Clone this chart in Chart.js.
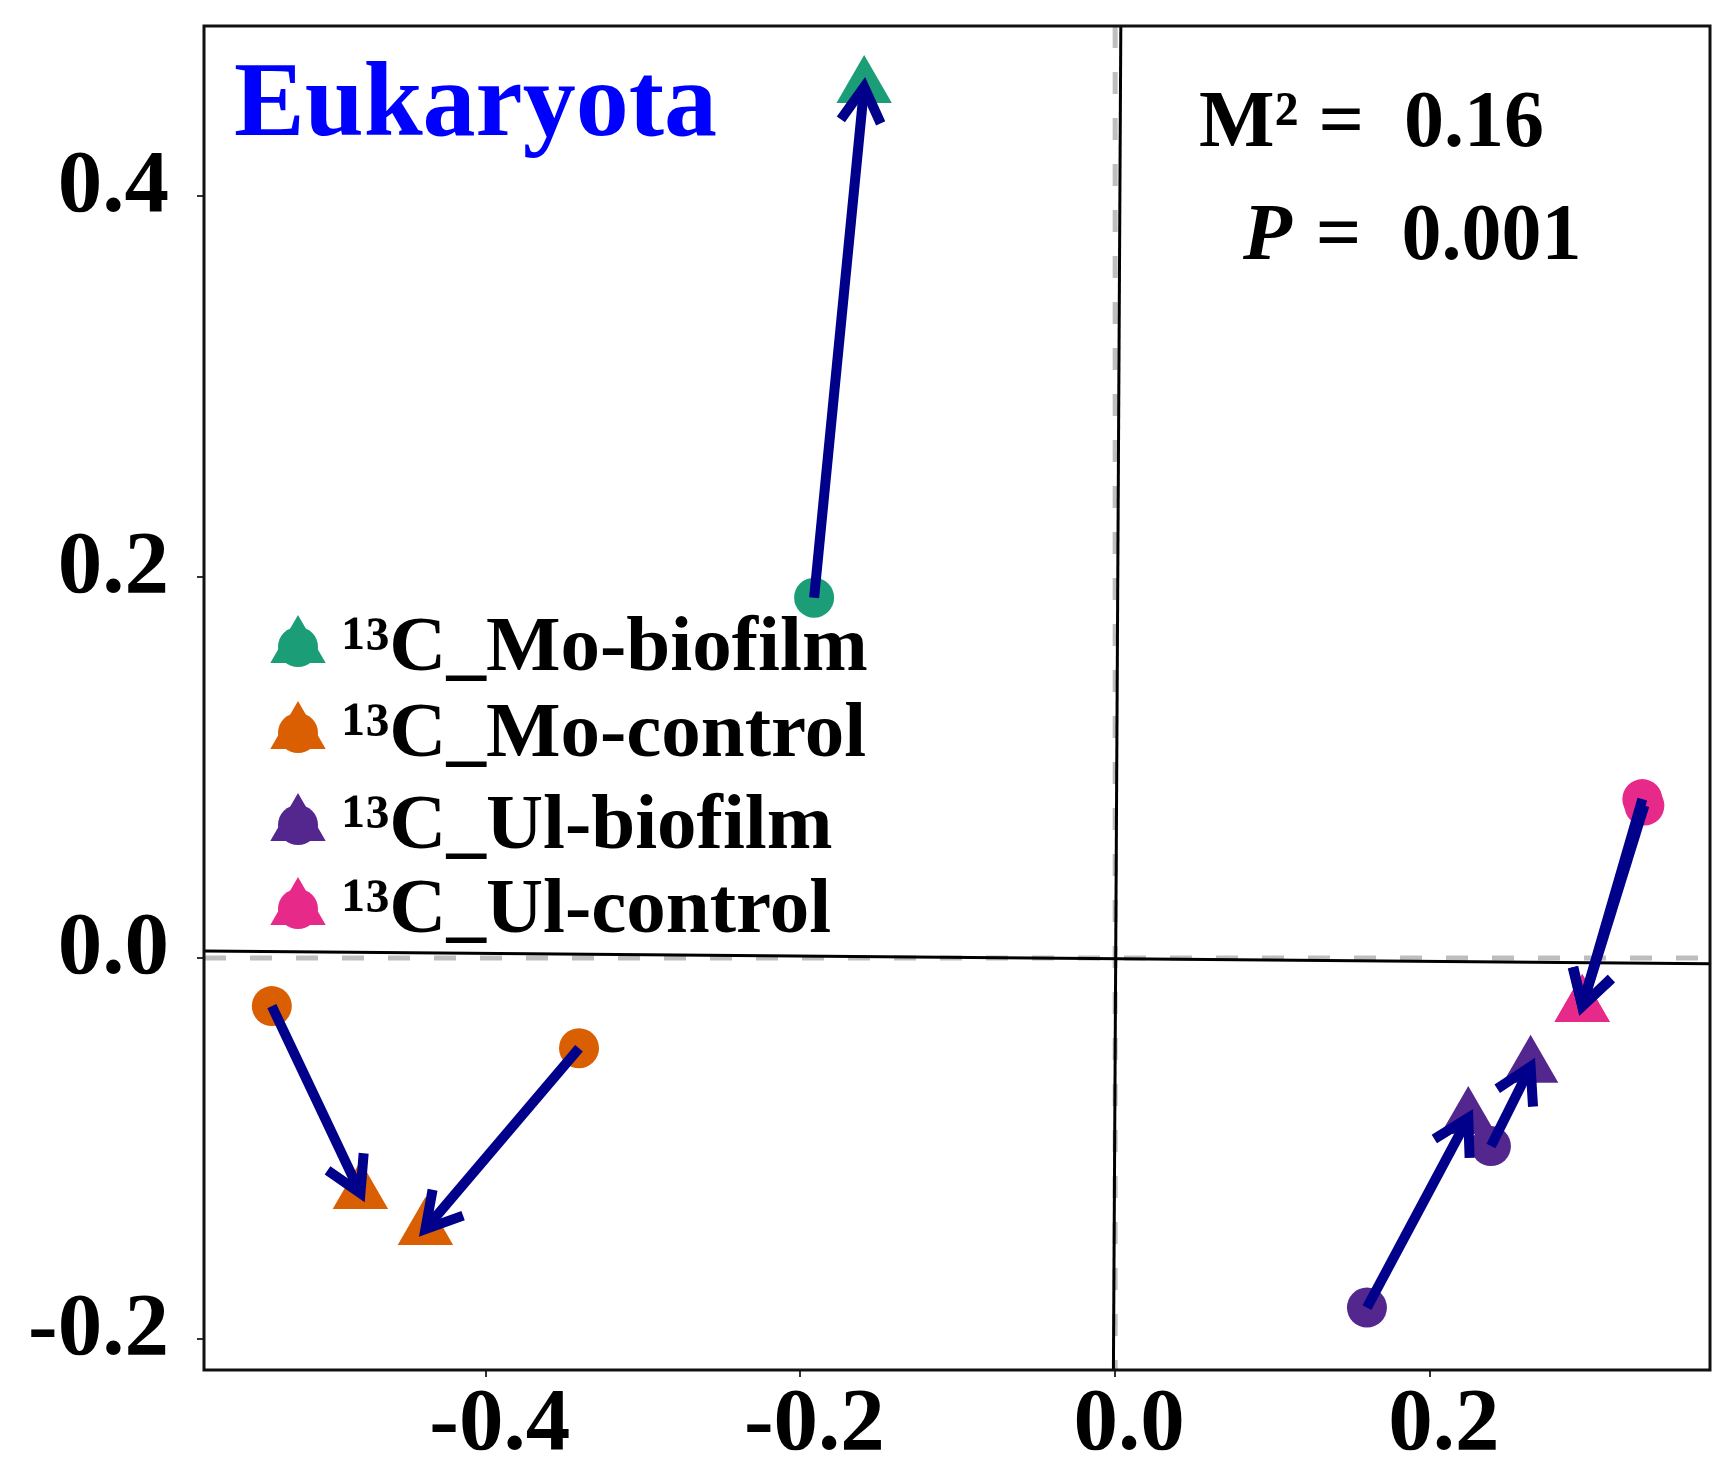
<!DOCTYPE html>
<html>
<head>
<meta charset="utf-8">
<script src="https://cdn.jsdelivr.net/npm/chart.js@4.4.1/dist/chart.umd.min.js"></script>
<style>
  html, body { margin: 0; padding: 0; background: #fff; }
  #wrap { width: 1713px; height: 1468px; }
</style>
</head>
<body>
<div id="wrap"><canvas id="chart" width="1713" height="1468"></canvas></div>
<script>
const xTicks = [-0.4, -0.2, 0.0, 0.2]
const xTickLabels = ['-0.4', '-0.2', '0.0', '0.2']
const yTicks = [-0.2, 0.0, 0.2, 0.4]
const yTickLabels = ['-0.2', '0.0', '0.2', '0.4']
const xRange = [-0.579, 0.378]
const yRange = [-0.2163, 0.4895]

const groups = ['¹³C_Mo-biofilm', '¹³C_Mo-control', '¹³C_Ul-biofilm', '¹³C_Ul-control']
const groupColors = ['#1B9E77', '#D95F02', '#54278F', '#E7298A']

// circles = first ordination, triangles = rotated second ordination
const moBiofilmStart = [{ x: -0.1913, y: 0.1893 }]
const moBiofilmEnd = [{ x: -0.1595, y: 0.4575 }]
const moControlStart = [{ x: -0.5359, y: -0.0252 }, { x: -0.3407, y: -0.0473 }]
const moControlEnd = [{ x: -0.4796, y: -0.1234 }, { x: -0.4383, y: -0.1423 }]
const ulBiofilmStart = [{ x: 0.1600, y: -0.1835 }, { x: 0.2388, y: -0.0987 }]
const ulBiofilmEnd = [{ x: 0.2244, y: -0.0839 }, { x: 0.2640, y: -0.0570 }]
const ulControlStart = [{ x: 0.3350, y: 0.0835 }, { x: 0.3363, y: 0.0801 }]
const ulControlEnd = [{ x: 0.2968, y: -0.0252 }, { x: 0.2968, y: -0.0252 }]

// procrustes rotation axes
const rotAxisH = [{ x: -0.579, y: 0.0038 }, { x: 0.378, y: -0.0029 }]
const rotAxisV = [{ x: 0.0036, y: 0.4895 }, { x: -0.0011, y: -0.2163 }]

const titleText = 'Eukaryota'
const m2Value = '0.16'
const pValue = '0.001'

const starts = [moBiofilmStart, moControlStart, ulBiofilmStart, ulControlStart]
const ends = [moBiofilmEnd, moControlEnd, ulBiofilmEnd, ulControlEnd]

const ARROW = '#00008B'
const SERIF = '"Liberation Serif", "Times New Roman", serif'

const datasets = []

// arrows (shafts), drawn on top
starts.forEach((pts, g) => {
  pts.forEach((p, i) => {
    datasets.push({
      type: 'line',
      data: [p, ends[g][i]],
      showLine: true,
      borderColor: ARROW,
      borderWidth: 10,
      borderCapStyle: 'butt',
      pointRadius: 0,
      order: 1,
    })
  })
})

// triangles and circles
ends.forEach((pts, g) => {
  datasets.push({
    data: pts,
    pointStyle: 'triangle',
    pointRadius: 32,
    backgroundColor: groupColors[g],
    borderWidth: 0,
    order: 2,
  })
})
starts.forEach((pts, g) => {
  datasets.push({
    data: pts,
    pointStyle: 'circle',
    pointRadius: 20,
    backgroundColor: groupColors[g],
    borderWidth: 0,
    order: 3,
  })
})

// rotation axes
;[rotAxisH, rotAxisV].forEach(line => {
  datasets.push({
    type: 'line',
    data: line,
    showLine: true,
    borderColor: '#000',
    borderWidth: 3,
    pointRadius: 0,
    order: 4,
  })
})

// dashed zero lines
datasets.push({
  type: 'line',
  data: [{ x: xRange[0], y: 0 }, { x: xRange[1], y: 0 }],
  showLine: true,
  borderColor: '#BEBEBE',
  borderWidth: 5,
  borderDash: [22, 24],
  pointRadius: 0,
  order: 5,
})
datasets.push({
  type: 'line',
  data: [{ x: 0, y: yRange[1] }, { x: 0, y: yRange[0] }],
  showLine: true,
  borderColor: '#BEBEBE',
  borderWidth: 5,
  borderDash: [22, 24],
  pointRadius: 0,
  order: 5,
})

function drawMarker(ctx, style, r, x, y, color) {
  ctx.fillStyle = color
  if (Chart.helpers && Chart.helpers.drawPoint) {
    Chart.helpers.drawPoint(ctx, { pointStyle: style, radius: r, rotation: 0, borderWidth: 0 }, x, y)
    return
  }
  ctx.beginPath()
  if (style === 'circle') {
    ctx.arc(x, y, r, 0, Math.PI * 2)
  } else {
    for (let k = 0; k < 3; k++) {
      const a = k * Math.PI * 2 / 3
      ctx.lineTo(x + Math.sin(a) * r, y - Math.cos(a) * r)
    }
    ctx.closePath()
  }
  ctx.fill()
}

const arrowHeads = {
  id: 'arrowHeads',
  afterDatasetsDraw(chart) {
    const { ctx, scales: { x, y } } = chart
    ctx.save()
    ctx.strokeStyle = ARROW
    ctx.lineWidth = 10
    ctx.lineCap = 'butt'
    ctx.lineJoin = 'miter'
    starts.forEach((pts, g) => {
      pts.forEach((p, i) => {
        const e = ends[g][i]
        const x0 = x.getPixelForValue(p.x), y0 = y.getPixelForValue(p.y)
        const x1 = x.getPixelForValue(e.x), y1 = y.getPixelForValue(e.y)
        const ang = Math.atan2(y1 - y0, x1 - x0)
        const len = 40, spread = Math.PI / 6
        ctx.beginPath()
        ctx.moveTo(x1 - len * Math.cos(ang - spread), y1 - len * Math.sin(ang - spread))
        ctx.lineTo(x1, y1)
        ctx.lineTo(x1 - len * Math.cos(ang + spread), y1 - len * Math.sin(ang + spread))
        ctx.stroke()
      })
    })
    // frame
    const a = chart.chartArea
    ctx.strokeStyle = '#111'
    ctx.lineWidth = 3
    ctx.strokeRect(a.left, a.top, a.right - a.left, a.bottom - a.top)
    ctx.restore()
  },
}

const annotations = {
  id: 'annotations',
  afterDraw(chart) {
    const { ctx } = chart
    ctx.save()
    ctx.textBaseline = 'alphabetic'
    ctx.textAlign = 'left'

    ctx.fillStyle = '#0000FF'
    ctx.font = `bold 106px ${SERIF}`
    ctx.fillText(titleText, 234, 135)

    ctx.fillStyle = '#000'
    ctx.font = `bold 80px ${SERIF}`
    ctx.fillText('M² =  ' + m2Value, 1199, 146)
    ctx.font = `italic bold 80px ${SERIF}`
    ctx.fillText('P', 1243, 259)
    const pw = ctx.measureText('P').width
    ctx.font = `bold 80px ${SERIF}`
    ctx.fillText(' =  ' + pValue, 1243 + pw + 4, 259)

    // legend
    ctx.font = `bold 79px ${SERIF}`
    const baselines = [670, 756, 848, 932]
    groups.forEach((label, g) => {
      const base = baselines[g]
      drawMarker(ctx, 'triangle', 32, 298, base - 23, groupColors[g])
      drawMarker(ctx, 'circle', 20, 298, base - 23, groupColors[g])
      ctx.fillStyle = '#000'
      ctx.fillText(label, 342, base)
    })
    ctx.restore()
  },
}

const tickFont = { family: SERIF, size: 89, weight: 'bold', lineHeight: 1 }

function noPad(s) {
  s.paddingTop = 0
  s.paddingBottom = 0
  s.paddingLeft = 0
  s.paddingRight = 0
}

new Chart(document.getElementById('chart'), {
  type: 'scatter',
  data: { datasets },
  options: {
    responsive: false,
    animation: false,
    events: [],
    layout: { autoPadding: false, padding: { top: 26, right: 3, left: 0, bottom: 0 } },
    plugins: { legend: { display: false }, tooltip: { enabled: false } },
    scales: {
      x: {
        type: 'linear',
        min: xRange[0],
        max: xRange[1],
        afterBuildTicks: s => { s.ticks = xTicks.map(v => ({ value: v })) },
        afterFit: s => { s.height = 98; noPad(s) },
        ticks: {
          font: tickFont,
          color: '#000',
          padding: 5,
          labelOffset: 14,
          maxRotation: 0,
          autoSkip: false,
          callback: v => xTickLabels[xTicks.indexOf(v)],
        },
        grid: { drawOnChartArea: false, drawTicks: true, tickLength: 7, color: '#333', lineWidth: 2 },
        border: { display: false },
      },
      y: {
        type: 'linear',
        min: yRange[0],
        max: yRange[1],
        afterBuildTicks: s => { s.ticks = yTicks.map(v => ({ value: v })) },
        afterFit: s => { s.width = 204; noPad(s) },
        ticks: {
          font: tickFont,
          color: '#000',
          padding: 28,
          labelOffset: -8,
          autoSkip: false,
          callback: v => yTickLabels[yTicks.indexOf(v)],
        },
        grid: { drawOnChartArea: false, drawTicks: true, tickLength: 7, color: '#333', lineWidth: 2 },
        border: { display: false },
      },
    },
  },
  plugins: [arrowHeads, annotations],
})
</script>
</body>
</html>
